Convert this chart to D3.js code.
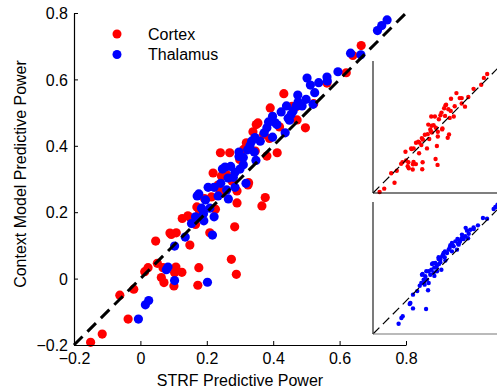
<!DOCTYPE html>
<html>
<head>
<meta charset="utf-8">
<script src="https://cdn.jsdelivr.net/npm/d3@7"></script>
<style>
  body { margin: 0; background: #fff; }
  text { font-family: "Liberation Sans", Arial, sans-serif; }
</style>
</head>
<body>
<svg id="chart"></svg>
<script>
// values
const cortexStrf = [0.665, 0.640, 0.620, 0.562, 0.522, 0.497, 0.457, 0.472, 0.432, 0.391,
  0.419, 0.389, 0.412, 0.349, 0.339, 0.371, 0.319, 0.311, 0.346, 0.269,
  0.241, 0.299, 0.259, 0.244, 0.276, 0.326, 0.291, 0.239, 0.214, 0.193,
  0.178, 0.151, 0.126, 0.226, 0.376, 0.366, 0.284, 0.166, 0.209, 0.108,
  0.093, 0.046, 0.176, 0.274, 0.289, 0.173, 0.103, 0.068, 0.051, 0.023,
  0.013, 0.063, 0.071, 0.101, -0.020, -0.062, -0.037, -0.115, -0.150, 0.149,
  0.381, 0.472, 0.354, 0.291, 0.324, 0.246, 0.143, 0.170, 0.219, 0.234,
  0.089, 0.107, 0.125];
const cortexContext = [0.702, 0.672, 0.620, 0.589, 0.527, 0.454, 0.519, 0.519, 0.557, 0.514,
  0.457, 0.422, 0.379, 0.464, 0.442, 0.434, 0.409, 0.389, 0.384, 0.379,
  0.379, 0.359, 0.314, 0.309, 0.294, 0.289, 0.264, 0.266, 0.246, 0.241,
  0.204, 0.183, 0.181, 0.209, 0.244, 0.219, 0.156, 0.163, 0.138, 0.138,
  0.133, 0.113, 0.033, 0.058, 0.013, -0.020, 0.018, 0.033, 0.046, 0.033,
  0.021, 0.003, -0.012, -0.022, -0.032, -0.050, -0.122, -0.167, -0.192, 0.101,
  0.369, 0.478, 0.469, 0.228, 0.282, 0.258, 0.189, 0.216, 0.318, 0.282,
  0.137, 0.035, 0.019];

const thalamusStrf = [0.727, 0.743, 0.714, 0.664, 0.633, 0.595, 0.563, 0.537, 0.512, 0.525,
  0.499, 0.487, 0.520, 0.469, 0.454, 0.424, 0.398, 0.386, 0.411, 0.373,
  0.361, 0.398, 0.335, 0.323, 0.343, 0.297, 0.310, 0.272, 0.247, 0.280,
  0.242, 0.222, 0.204, 0.171, 0.196, 0.234, 0.285, 0.318, 0.209, 0.166,
  0.154, 0.191, 0.222, 0.217, 0.103, 0.078, 0.103, 0.202, 0.025, 0.015,
  -0.006, 0.449, 0.474, 0.436, 0.348, 0.260, 0.184, 0.300, 0.330, 0.405,
  0.440, 0.265, 0.135, 0.190, 0.285, 0.310, 0.345, 0.460, 0.176, 0.083,
  0.381, 0.445, 0.475, 0.502, 0.562, 0.297, 0.255, 0.264];
const thalamusContext = [0.762, 0.779, 0.747, 0.674, 0.679, 0.623, 0.595, 0.590, 0.583, 0.560,
  0.540, 0.520, 0.525, 0.520, 0.494, 0.502, 0.489, 0.472, 0.464, 0.439,
  0.414, 0.426, 0.414, 0.388, 0.381, 0.368, 0.343, 0.338, 0.330, 0.305,
  0.287, 0.275, 0.275, 0.249, 0.237, 0.249, 0.275, 0.287, 0.212, 0.186,
  0.166, 0.174, 0.186, 0.131, 0.098, 0.027, -0.006, -0.011, -0.066, -0.079,
  -0.122, 0.477, 0.553, 0.439, 0.356, 0.267, 0.212, 0.330, 0.400, 0.470,
  0.520, 0.240, 0.125, 0.195, 0.320, 0.365, 0.425, 0.505, 0.255, 0.035,
  0.454, 0.483, 0.532, 0.604, 0.607, 0.381, 0.336, 0.303];

const tickValues = [-0.2, 0, 0.2, 0.4, 0.6, 0.8];
const tickLabels = ["\u22120.2", "0", "0.2", "0.4", "0.6", "0.8"];
const legendLabels = ["Cortex", "Thalamus"];
const colors = ["#ff0000", "#0000ff"];
const domain = [-0.2, 0.8];

const W = 497, H = 392;
const svg = d3.select("#chart").attr("width", W).attr("height", H);

const x = d3.scaleLinear().domain(domain).range([74, 406]);
const y = d3.scaleLinear().domain(domain).range([345, 13]);

const cortex = cortexStrf.map((d, i) => ({ x: d, y: cortexContext[i] }));
const thalamus = thalamusStrf.map((d, i) => ({ x: d, y: thalamusContext[i] }));

// main points, thalamus drawn on top
const main = svg.append("g");
[cortex, thalamus].forEach((set, k) => {
  main.selectAll(".p" + k)
    .data(set)
    .join("circle")
    .attr("class", "p" + k)
    .attr("cx", (d) => x(d.x))
    .attr("cy", (d) => y(d.y))
    .attr("r", 4.6)
    .attr("fill", colors[k]);
});

// unity line
main.append("line")
  .attr("x1", x(-0.2)).attr("y1", y(-0.2))
  .attr("x2", x(0.8)).attr("y2", y(0.8))
  .attr("stroke", "#000")
  .attr("stroke-width", 3)
  .attr("stroke-dasharray", "12,7");

// axes, ticks pointing in
const xAxis = d3.axisBottom(x).tickValues(tickValues)
  .tickFormat((d, i) => tickLabels[i]).tickSizeInner(-4).tickSizeOuter(0).tickPadding(8);
const yAxis = d3.axisLeft(y).tickValues(tickValues)
  .tickFormat((d, i) => tickLabels[i]).tickSizeInner(-4).tickSizeOuter(0).tickPadding(6);

const gx = svg.append("g").attr("transform", "translate(0,345)").call(xAxis);
const gy = svg.append("g").attr("transform", "translate(74,0)").call(yAxis);
[gx, gy].forEach((g) => {
  g.select(".domain").attr("stroke", "#000").attr("stroke-width", 1.2);
  g.selectAll(".tick line").attr("stroke", "#000");
  g.selectAll(".tick text")
    .attr("fill", "#000")
    .style("font-size", "16px")
    .style("font-family", "'Liberation Sans', Arial, sans-serif");
});
gy.selectAll(".tick text").attr("dy", "0.35em");

svg.append("text")
  .attr("x", 240).attr("y", 386)
  .attr("text-anchor", "middle")
  .style("font-size", "16px")
  .text("STRF Predictive Power");

svg.append("text")
  .attr("transform", "translate(26,174) rotate(-90)")
  .attr("text-anchor", "middle")
  .style("font-size", "16px")
  .text("Context Model Predictive Power");

// legend
const legend = svg.append("g");
legendLabels.forEach((lab, i) => {
  legend.append("circle")
    .attr("cx", 117).attr("cy", 34 + i * 20.5)
    .attr("r", 4.5)
    .attr("fill", colors[i]);
  legend.append("text")
    .attr("x", 148).attr("y", 34 + i * 20.5)
    .attr("dy", "0.36em")
    .style("font-size", "16px")
    .text(lab);
});

// insets: same data, one series each
const insets = [
  { data: cortex, color: colors[0], top: 61, bottom: 193, base: "#000" },
  { data: thalamus, color: colors[1], top: 202, bottom: 334, base: "#777" }
];
insets.forEach((ins) => {
  const xi = d3.scaleLinear().domain(domain).range([373, 505]);
  const yi = d3.scaleLinear().domain(domain).range([ins.bottom, ins.top]);
  const g = svg.append("g");
  g.append("rect")
    .attr("x", xi(-0.2)).attr("y", yi(0.8))
    .attr("width", xi(0.8) - xi(-0.2)).attr("height", yi(-0.2) - yi(0.8))
    .attr("fill", "#fff");
  g.selectAll("circle")
    .data(ins.data)
    .join("circle")
    .attr("cx", (d) => xi(d.x))
    .attr("cy", (d) => yi(d.y))
    .attr("r", 2.2)
    .attr("fill", ins.color);
  g.append("line")
    .attr("x1", xi(-0.2)).attr("y1", yi(-0.2))
    .attr("x2", xi(0.8)).attr("y2", yi(0.8))
    .attr("stroke", "#000")
    .attr("stroke-width", 1.2)
    .attr("stroke-dasharray", "9,5");
  g.append("line")
    .attr("x1", xi(-0.2)).attr("y1", yi(0.8))
    .attr("x2", xi(-0.2)).attr("y2", yi(-0.2))
    .attr("stroke", "#222").attr("stroke-width", 1.2);
  g.append("line")
    .attr("x1", xi(-0.2)).attr("y1", yi(-0.2))
    .attr("x2", xi(0.8)).attr("y2", yi(-0.2))
    .attr("stroke", ins.base).attr("stroke-width", 1.2);
});
</script>
</body>
</html>
